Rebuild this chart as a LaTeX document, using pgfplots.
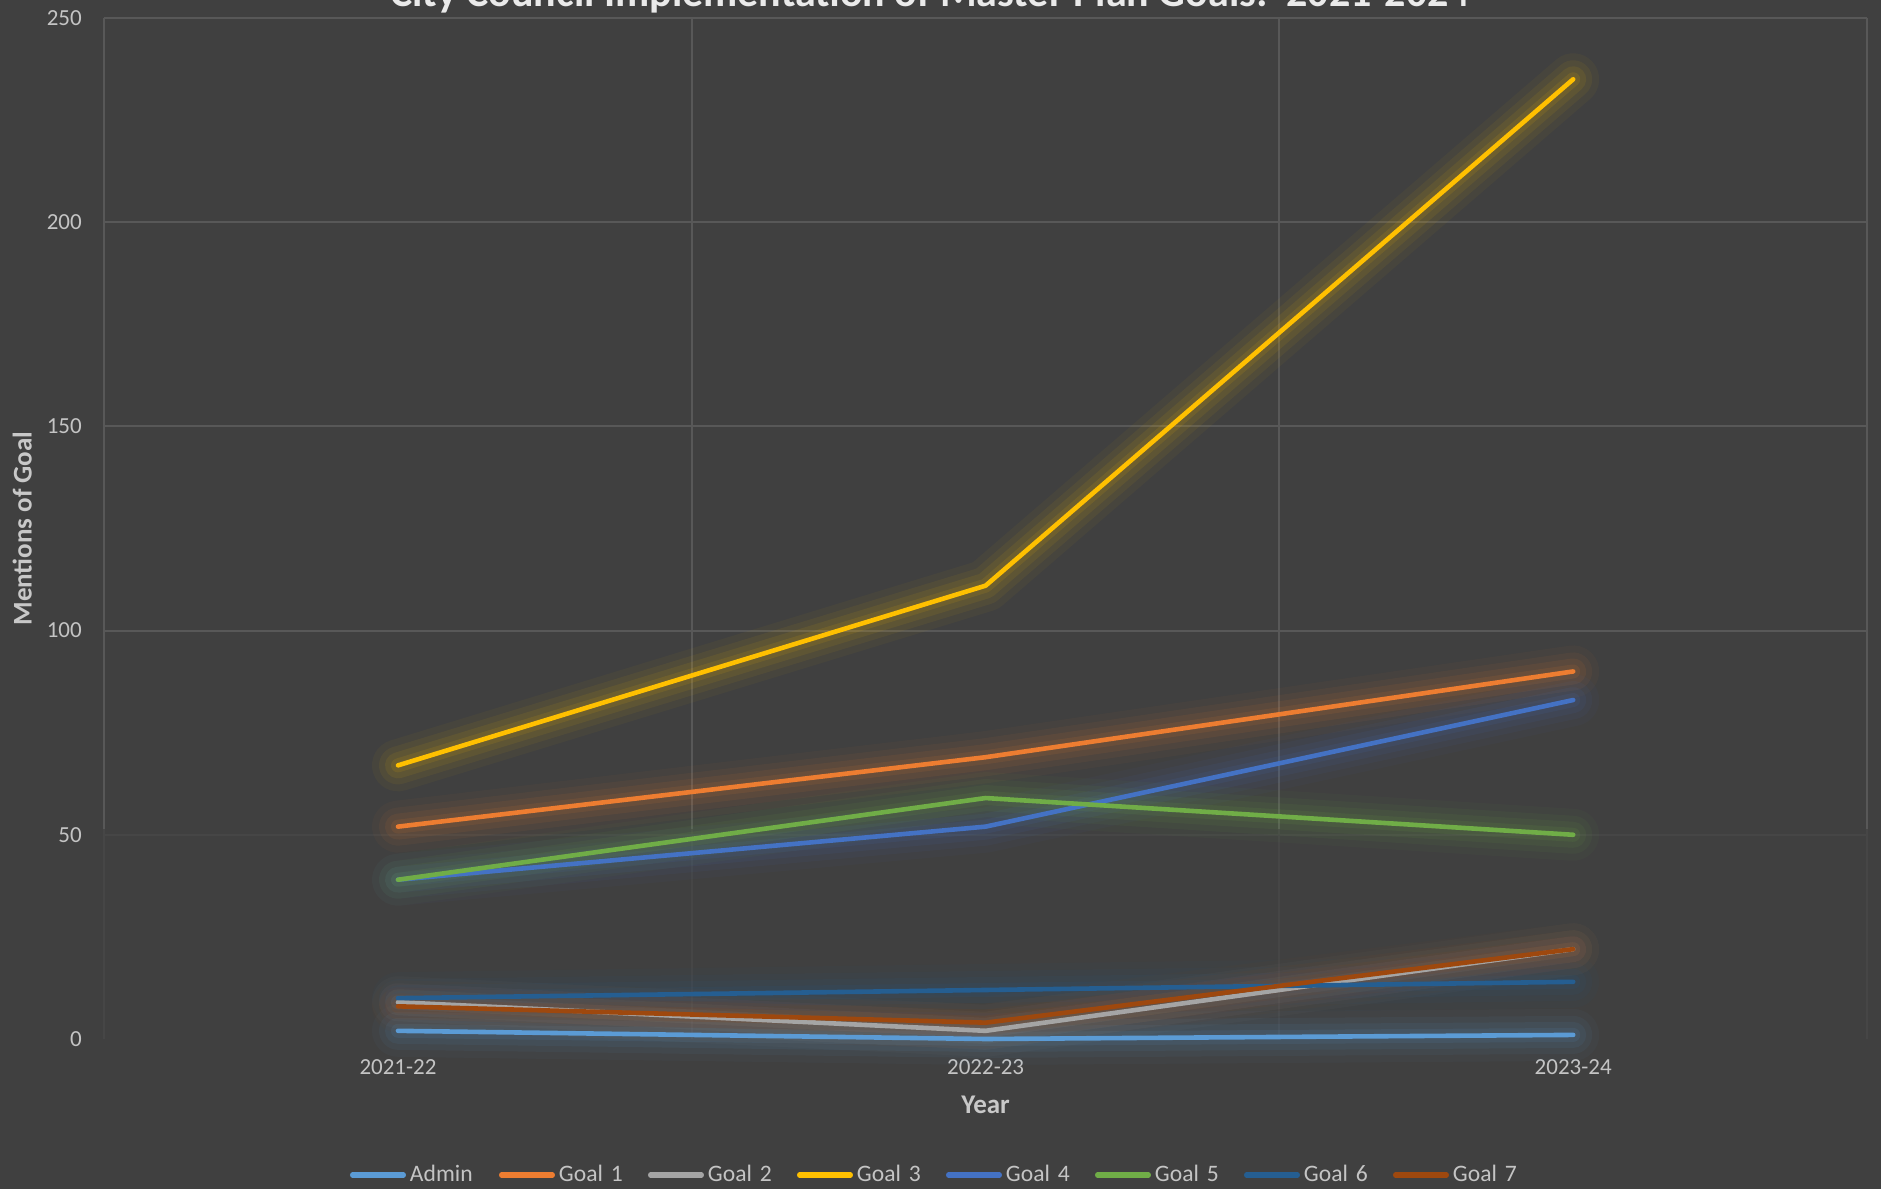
\documentclass[border=0pt]{standalone}
\usepackage{pgfplots}
\pgfplotsset{compat=1.18}
\usepackage{pgfplotstable}
\usepackage{fontspec}
\setmainfont{Carlito}
\definecolor{bg}{HTML}{404040}
\definecolor{gridc}{HTML}{585858}
\definecolor{tickc}{HTML}{C4C4C4}
\definecolor{labc}{HTML}{C8C8C8}
\definecolor{titc}{HTML}{EAEAEA}
\definecolor{cA}{HTML}{5B9BD5}
\definecolor{c1}{HTML}{ED7D31}
\definecolor{c2}{HTML}{A5A5A5}
\definecolor{c3}{HTML}{FFC000}
\definecolor{c4}{HTML}{4472C4}
\definecolor{c5}{HTML}{70AD47}
\definecolor{c6}{HTML}{255E91}
\definecolor{c7}{HTML}{9E480E}
\pgfplotstableread{
x admin g1 g2 g3 g4 g5 g6 g7
0 2 52 9 67 39 39 10 8
1 0 69 2 111 52 59 12 4
2 1 90 22 235 83 50 14 22
}\datatab
\pgfplotsset{
  glowA/.style={forget plot, draw=#1, line width=26pt, opacity=0.04, line join=round, line cap=round},
  glowB/.style={forget plot, draw=#1, line width=19pt, opacity=0.06, line join=round, line cap=round},
  glowC/.style={forget plot, draw=#1, line width=13pt, opacity=0.08, line join=round, line cap=round},
  glowD/.style={forget plot, draw=#1, line width=7pt, opacity=0.10, line join=round, line cap=round},
  ser/.style={draw=#1, line width=2.3pt, line join=round, line cap=round, mark=none},
}
\newcommand{\glow}[2]{%
  \addplot[glowA=#1] table[x=x,y=#2]{\datatab};
  \addplot[glowB=#1] table[x=x,y=#2]{\datatab};
  \addplot[glowC=#1] table[x=x,y=#2]{\datatab};
  \addplot[glowD=#1] table[x=x,y=#2]{\datatab};
}
\begin{document}
\begin{tikzpicture}
\fill[bg] (-52.1pt,-75pt) rectangle (888.4pt,519.5pt);
\begin{axis}[
  at={(0,0)}, anchor=south west,
  scale only axis, width=881.4pt, height=510.5pt,
  xmin=-0.5, xmax=2.5, ymin=0, ymax=250,
  clip=false,
  axis line style={draw=none},
  xtick={0,1,2}, xticklabels={2021-22,2022-23,2023-24},
  minor xtick={-0.5,0.5,1.5,2.5}, xminorgrids,
  ytick={50,100,...,250}, ymajorgrids,
  extra y ticks={0}, extra y tick style={grid=none},
  grid style={draw=gridc, line width=1pt},
  minor grid style={draw=gridc, line width=1pt},
  major tick length=0pt, minor tick length=0pt,
  /pgf/number format/assume math mode=true,
  tick label style={font=\fontsize{11.5}{13}\selectfont, text=tickc, inner sep=0pt},
  yticklabel style={anchor=east, xshift=-11pt},
  xticklabel style={anchor=base, yshift=-18pt},
  xlabel={Year}, ylabel={Mentions of Goal},
  label style={font=\bfseries\fontsize{13.5}{15}\selectfont, text=labc, inner sep=0pt},
  xlabel style={at={(axis description cs:0.5,0)}, anchor=base, yshift=-37.5pt},
  ylabel style={at={(axis description cs:0,0.5)}, anchor=center, yshift=41pt},
  title={City Council Implementation of Master Plan Goals:\ \ 2021-2024},
  title style={at={(axis description cs:0.4684,1)}, anchor=base, yshift=-0.5pt, inner sep=0pt, font=\bfseries\fontsize{21}{24}\selectfont, text=titc},
  legend columns=8,
  legend style={at={(0.4764,-0.1332)}, anchor=center, draw=none, fill=none,
    font=\fontsize{11.8}{13}\selectfont, text=tickc, inner sep=0pt,
    column sep=2pt,
    nodes={inner sep=0pt, text width=42.5pt, align=left}},
  legend image code/.code={\draw[#1, line width=2.6pt, line cap=round] (1.3pt,0pt) -- (26.7pt,0pt);},
]
\fill[bg, opacity=0.75] (axis cs:-0.52,-1) rectangle (axis cs:2.52,51.5);
\glow{cA}{admin}
\glow{c1}{g1}
\glow{c2}{g2}
\glow{c3}{g3}
\glow{c4}{g4}
\glow{c5}{g5}
\glow{c6}{g6}
\glow{c7}{g7}
\addplot[ser=cA] table[x=x,y=admin]{\datatab};
\addlegendentry{Admin}
\addplot[ser=c1] table[x=x,y=g1]{\datatab};
\addlegendentry{Goal 1}
\addplot[ser=c2] table[x=x,y=g2]{\datatab};
\addlegendentry{Goal 2}
\addplot[ser=c3] table[x=x,y=g3]{\datatab};
\addlegendentry{Goal 3}
\addplot[ser=c4] table[x=x,y=g4]{\datatab};
\addlegendentry{Goal 4}
\addplot[ser=c5] table[x=x,y=g5]{\datatab};
\addlegendentry{Goal 5}
\addplot[ser=c6] table[x=x,y=g6]{\datatab};
\addlegendentry{Goal 6}
\addplot[ser=c7] table[x=x,y=g7]{\datatab};
\addlegendentry{Goal 7}
\end{axis}
\pgfresetboundingbox
\useasboundingbox (-52.1pt,-75pt) rectangle (888.4pt,519.5pt);
\end{tikzpicture}
\end{document}
